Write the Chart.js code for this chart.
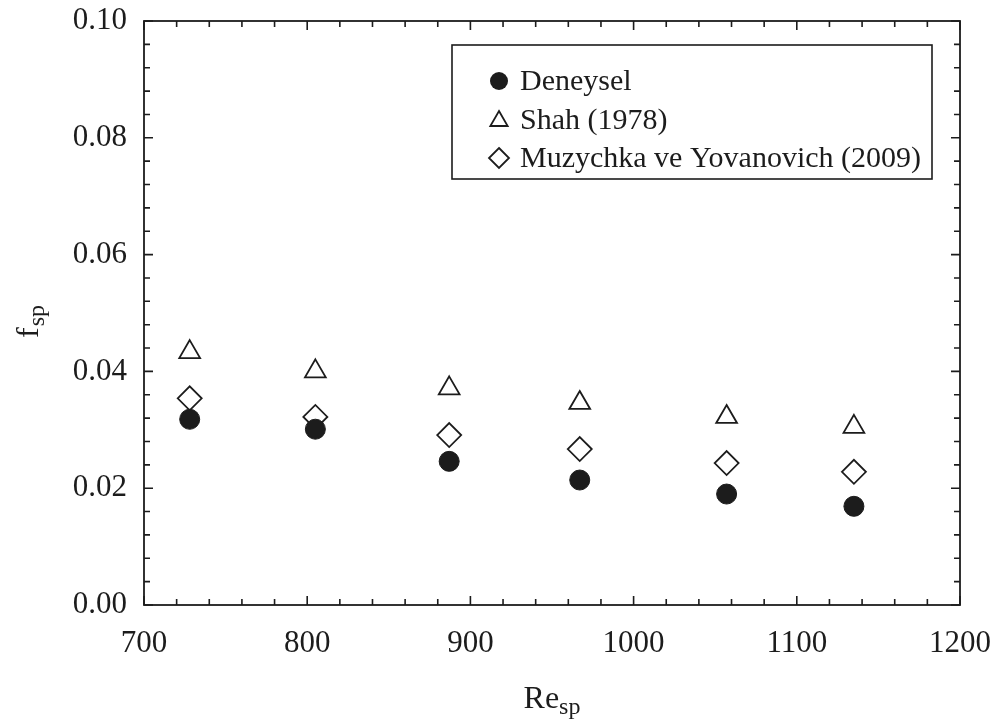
<!DOCTYPE html>
<html>
<head>
<meta charset="utf-8">
<script src="https://cdn.jsdelivr.net/npm/chart.js@4.4.1/dist/chart.umd.min.js"></script>
<style>
  html, body { margin: 0; padding: 0; background: #fff; }
  #wrap { width: 1000px; height: 726px; }
</style>
</head>
<body>
<div id="wrap"><canvas id="chart" width="1000" height="726"></canvas></div>
<script>
const reValues = [728, 805, 887, 967, 1057, 1135];
const deneysel = [0.0318, 0.0301, 0.0246, 0.0214, 0.0190, 0.0169];
const shah = [0.0433, 0.0400, 0.0371, 0.0346, 0.0322, 0.0305];
const muzychka = [0.0354, 0.0322, 0.0291, 0.0267, 0.0243, 0.0228];
const seriesLabels = ["Deneysel", "Shah (1978)", "Muzychka ve Yovanovich (2009)"];
const xTicks = [700, 800, 900, 1000, 1100, 1200];
const yTicks = [0.00, 0.02, 0.04, 0.06, 0.08, 0.10];

const INK = "#1c1c1c";
const SERIF = '"Liberation Serif", "Times New Roman", serif';

function points(ys) {
  return reValues.map((x, i) => ({ x, y: ys[i] }));
}

// 4 minor ticks between each pair of major ticks
function minorTicks(major) {
  const out = [];
  for (let i = 0; i < major.length - 1; i++) {
    const step = (major[i + 1] - major[i]) / 5;
    for (let k = 1; k < 5; k++) out.push(major[i] + step * k);
  }
  return out;
}

function drawSymbol(ctx, style, x, y, r) {
  ctx.beginPath();
  if (style === "circle") {
    ctx.arc(x, y, r, 0, Math.PI * 2);
    ctx.fillStyle = INK;
    ctx.fill();
    return;
  }
  if (style === "triangle") {
    ctx.moveTo(x, y - r);
    ctx.lineTo(x + r * 0.866, y + r / 2);
    ctx.lineTo(x - r * 0.866, y + r / 2);
  } else {
    ctx.moveTo(x, y - r);
    ctx.lineTo(x + r, y);
    ctx.lineTo(x, y + r);
    ctx.lineTo(x - r, y);
  }
  ctx.closePath();
  ctx.fillStyle = "#fff";
  ctx.fill();
  ctx.strokeStyle = INK;
  ctx.lineWidth = 1.8;
  ctx.stroke();
}

const framePlugin = {
  id: "frame",
  afterDraw(chart) {
    const { ctx, chartArea: a, scales } = chart;
    const xs = scales.x, ys = scales.y;
    ctx.save();
    ctx.strokeStyle = INK;
    ctx.lineWidth = 1.8;
    ctx.strokeRect(a.left, a.top, a.right - a.left, a.bottom - a.top);

    // inward ticks on all four sides
    const tick = (vals, len, isX) => {
      vals.forEach(v => {
        ctx.beginPath();
        if (isX) {
          const px = xs.getPixelForValue(v);
          ctx.moveTo(px, a.bottom); ctx.lineTo(px, a.bottom - len);
          ctx.moveTo(px, a.top); ctx.lineTo(px, a.top + len);
        } else {
          const py = ys.getPixelForValue(v);
          ctx.moveTo(a.left, py); ctx.lineTo(a.left + len, py);
          ctx.moveTo(a.right, py); ctx.lineTo(a.right - len, py);
        }
        ctx.stroke();
      });
    };
    ctx.lineWidth = 1.6;
    tick(xTicks, 9, true);
    tick(minorTicks(xTicks), 6, true);
    tick(yTicks, 9, false);
    tick(minorTicks(yTicks), 6, false);

    // axis titles with subscripts
    ctx.fillStyle = INK;
    ctx.textBaseline = "alphabetic";
    ctx.textAlign = "left";
    ctx.font = "32px " + SERIF;
    const reW = ctx.measureText("Re").width;
    ctx.font = "24px " + SERIF;
    const spW = ctx.measureText("sp").width;
    const cx = (a.left + a.right) / 2 - (reW + spW) / 2;
    ctx.font = "32px " + SERIF;
    ctx.fillText("Re", cx, 708);
    ctx.font = "24px " + SERIF;
    ctx.fillText("sp", cx + reW, 714);

    ctx.translate(38, 338);
    ctx.rotate(-Math.PI / 2);
    ctx.font = "32px " + SERIF;
    const fW = ctx.measureText("f").width;
    ctx.fillText("f", 0, 0);
    ctx.font = "24px " + SERIF;
    ctx.fillText("sp", fW + 1, 6);
    ctx.restore();

    // legend box
    ctx.save();
    ctx.fillStyle = "#fff";
    ctx.fillRect(452, 45, 480, 134);
    ctx.strokeStyle = INK;
    ctx.lineWidth = 1.6;
    ctx.strokeRect(452, 45, 480, 134);
    const rowsY = [81, 120, 158];
    const styles = ["circle", "triangle", "rectRot"];
    const sizes = [9, 10, 10];
    ctx.font = "30px " + SERIF;
    ctx.textBaseline = "middle";
    ctx.textAlign = "left";
    seriesLabels.forEach((lab, i) => {
      drawSymbol(ctx, styles[i], 499, rowsY[i] + (i === 1 ? 1 : 0), sizes[i]);
      ctx.fillStyle = INK;
      ctx.fillText(lab, 520, rowsY[i] + 1);
    });
    ctx.restore();
  }
};

const ctx = document.getElementById("chart").getContext("2d");
new Chart(ctx, {
  type: "scatter",
  data: {
    datasets: [
      {
        label: seriesLabels[0],
        data: points(deneysel),
        pointStyle: "circle",
        pointRadius: 10,
        backgroundColor: INK,
        borderColor: INK,
        borderWidth: 1
      },
      {
        label: seriesLabels[1],
        data: points(shah),
        pointStyle: "triangle",
        pointRadius: 12,
        backgroundColor: "#fff",
        borderColor: INK,
        borderWidth: 1.8
      },
      {
        label: seriesLabels[2],
        data: points(muzychka),
        pointStyle: "rectRot",
        pointRadius: 12,
        backgroundColor: "#fff",
        borderColor: INK,
        borderWidth: 1.8
      }
    ]
  },
  options: {
    responsive: false,
    animation: false,
    layout: { padding: { left: 0, top: 21, right: 40, bottom: 0 } },
    plugins: {
      legend: { display: false },
      tooltip: { enabled: false }
    },
    scales: {
      x: {
        type: "linear",
        min: 700,
        max: 1200,
        afterBuildTicks: s => { s.ticks = xTicks.map(v => ({ value: v })); },
        afterFit: s => { s.height = 121; s.paddingLeft = 0; s.paddingRight = 0; },
        grid: { display: false, drawTicks: false },
        border: { display: false },
        ticks: {
          color: INK,
          padding: 20,
          maxRotation: 0,
          font: { family: SERIF, size: 31 },
          callback: v => String(v)
        }
      },
      y: {
        type: "linear",
        min: 0,
        max: 0.1,
        afterBuildTicks: s => { s.ticks = yTicks.map(v => ({ value: v })); },
        afterFit: s => { s.width = 144; s.paddingTop = 0; s.paddingBottom = 0; },
        grid: { display: false, drawTicks: false },
        border: { display: false },
        ticks: {
          color: INK,
          padding: 17,
          font: { family: SERIF, size: 31 },
          callback: v => Number(v).toFixed(2)
        }
      }
    }
  },
  plugins: [framePlugin]
});
</script>
</body>
</html>
